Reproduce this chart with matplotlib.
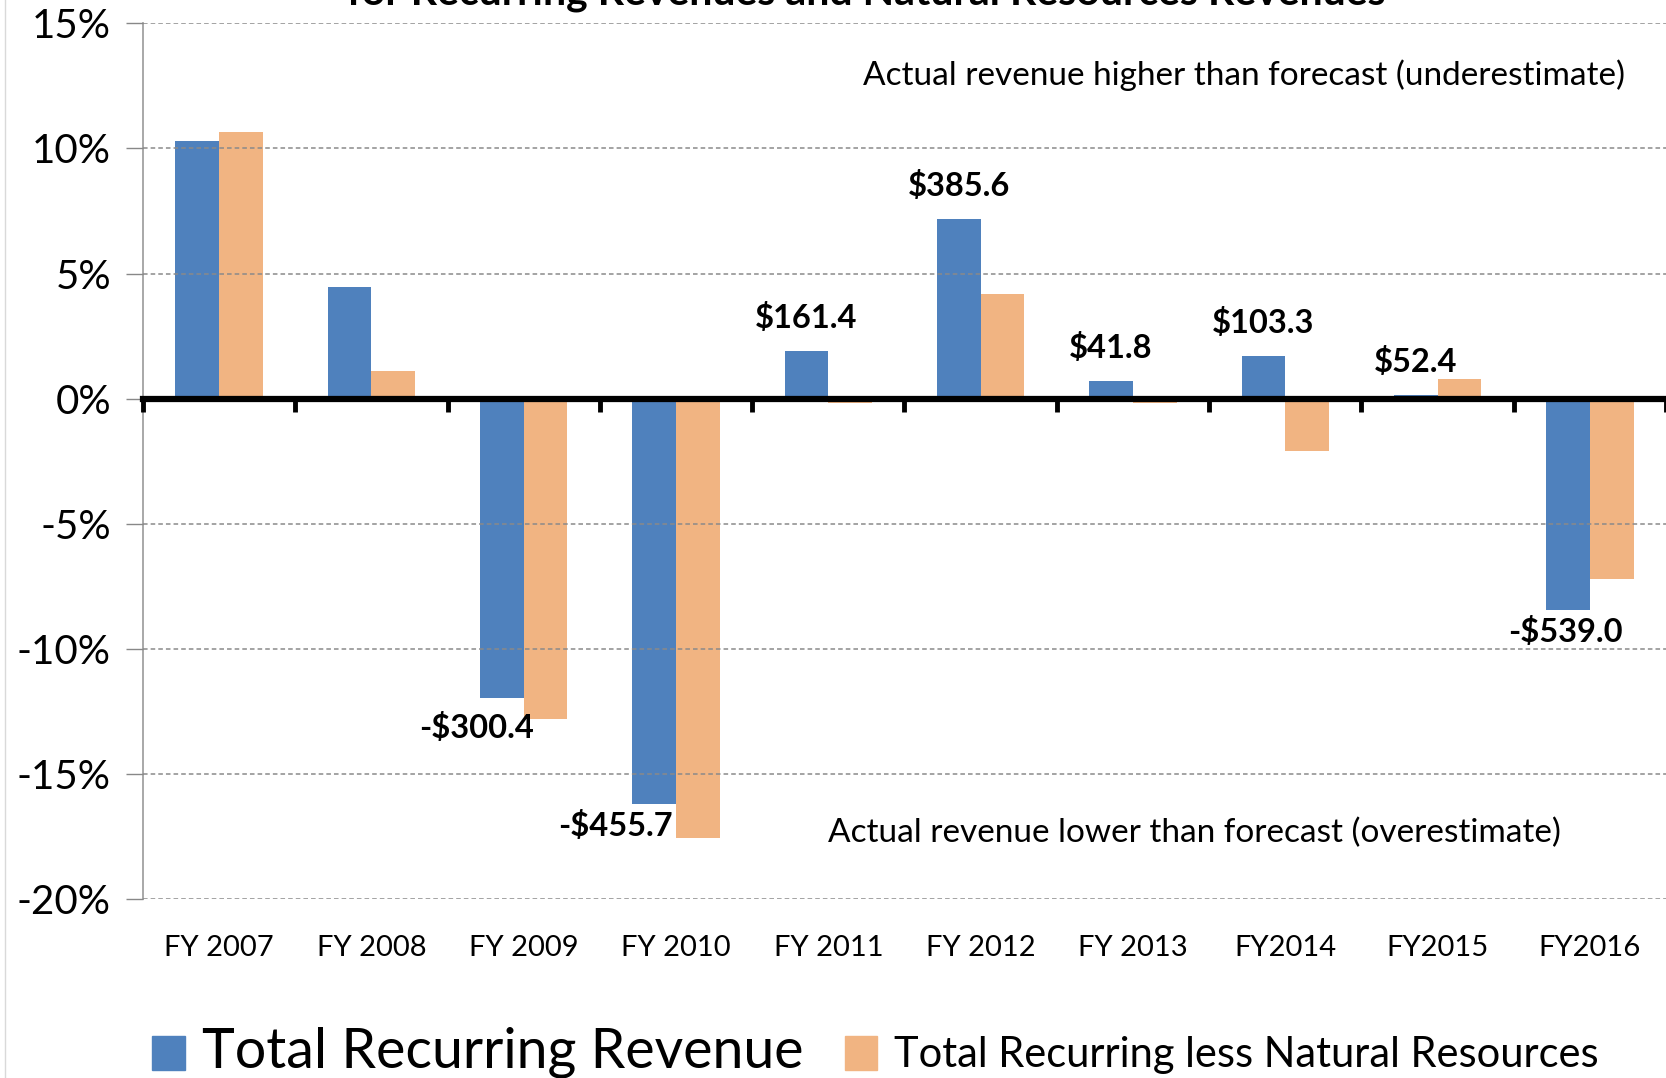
import numpy as np
import matplotlib
matplotlib.use("Agg")
import matplotlib.pyplot as plt
from matplotlib.patches import Patch

plt.rcParams['font.family'] = ['Lato', 'DejaVu Sans']

# data (percent difference between actual and forecast)
years = ["FY 2007", "FY 2008", "FY 2009", "FY 2010", "FY 2011",
         "FY 2012", "FY 2013", "FY2014", "FY2015", "FY2016"]
total_recurring = [10.3, 4.45, -11.95, -16.2, 1.9, 7.2, 0.7, 1.7, 0.15, -8.45]
less_natural = [10.65, 1.1, -12.8, -17.55, -0.18, 4.2, -0.18, -2.1, 0.8, -7.2]
dollar_labels = ["", "", "-$300.4", "-$455.7", "$161.4",
                 "$385.6", "$41.8", "$103.3", "$52.4", "-$539.0"]
# label offsets in pixels (dx, dy) from the end of the blue bar
label_offsets = [(0, 0), (0, 0), (-25, -30), (-39, -22), (0, 33),
                 (0, 33), (0, 33), (0, 33), (0, 33), (-3, -22)]

blue = '#4F81BD'
orange = '#F1B482'

fig = plt.figure(figsize=(16.66, 10.78), dpi=100)
ax = fig.add_axes([0.0858, 0.166, 0.9142, 0.8123])

x = np.arange(len(years))
w = 0.287
ax.bar(x - w/2, total_recurring, w, color=blue, zorder=2)
ax.bar(x + w/2, less_natural, w, color=orange, zorder=2)

ax.set_xlim(-0.5, len(years) - 0.5)
ax.set_ylim(-20, 15)
ax.set_yticks(np.arange(-20, 16, 5))
ax.set_yticklabels([f"{v}%" for v in range(-20, 16, 5)])
ax.tick_params(axis='y', labelsize=29, color='#888888', length=12, width=1, pad=11)
ax.grid(axis='y', color='#8a8a8a', linestyle=(0, (3, 2)), linewidth=1.1, zorder=3)
ax.set_axisbelow(False)

for s in ['top', 'right']:
    ax.spines[s].set_visible(False)
ax.spines['left'].set_color('#999999')
ax.spines['left'].set_linewidth(1.2)
ax.spines['left'].set_zorder(1)

# zero line with ticks at category boundaries
ax.spines['bottom'].set_position(('data', 0))
ax.spines['bottom'].set_linewidth(4.5)
ax.spines['bottom'].set_zorder(4)
ax.set_xticks(np.arange(-0.5, len(years), 1))
ax.tick_params(axis='x', direction='out', length=9, width=3.5, labelbottom=False)

# category labels at the bottom
sec = ax.secondary_xaxis(0)
sec.set_xticks(x)
sec.set_xticklabels(years)
sec.tick_params(length=0, labelsize=21, pad=26)
sec.spines['bottom'].set_visible(False)

for i, lab in enumerate(dollar_labels):
    if not lab:
        continue
    dx, dy = label_offsets[i]
    ax.annotate(lab, (x[i] - w/2, total_recurring[i]),
                xytext=(dx * 0.72, dy * 0.72), textcoords='offset points',
                ha='center', va='center', fontsize=23.5, fontweight='bold', zorder=5)

ax.text(1244, 1078 - 75, "Actual revenue higher than forecast (underestimate)",
        transform=None, ha='center', va='center', fontsize=24)
ax.text(1194, 1078 - 833, "Actual revenue lower than forecast (overestimate)",
        transform=None, ha='center', va='center', fontsize=24)

# title, cut off by the top edge
fig.text(0.52, 1 - 5 / 1078, "for Recurring Revenues and Natural Resources Revenues",
         ha='center', va='baseline', fontsize=29.5, fontweight='bold')

# faint frame line at the left edge
fig.add_artist(plt.Line2D([0.003, 0.003], [0, 1], color='#d9d9d9', linewidth=1))

handles = [Patch(color=blue), Patch(color=orange)]
leg = fig.legend(handles, ["Total Recurring Revenue", "Total Recurring less Natural Resources"],
                 loc='center left', bbox_to_anchor=(0.079, 0.024), ncol=2, frameon=False,
                 fontsize=30, handlelength=0.78, handleheight=0.85, handletextpad=0.4,
                 columnspacing=1.0, borderpad=0)
leg.get_texts()[0].set_fontsize(40)

fig.savefig("out.png", dpi=100)
